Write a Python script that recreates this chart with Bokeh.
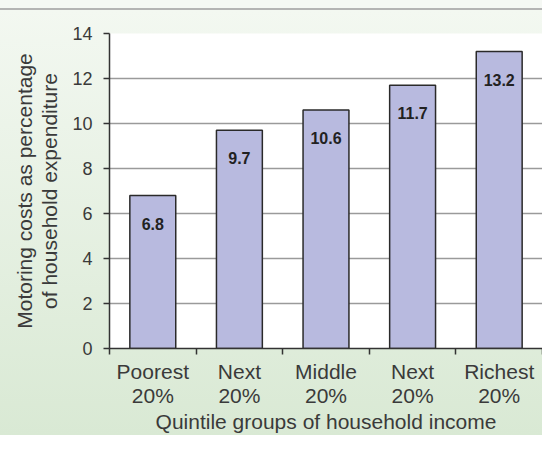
from bokeh.plotting import figure
from bokeh.models import Range1d, FixedTicker, ColumnDataSource
from bokeh.core.properties import value
from bokeh.embed import file_html
from bokeh.resources import INLINE

# ---- data ----
groups = ["Poorest\n20%", "Next\n20%", "Middle\n20%", "Next\n20%", "Richest\n20%"]
values = [6.8, 9.7, 10.6, 11.7, 13.2]
value_labels = ["6.8", "9.7", "10.6", "11.7", "13.2"]
y_ticks = [0, 2, 4, 6, 8, 10, 12, 14]
y_title = "Motoring costs as percentage\nof household expenditure"
x_title = "Quintile groups of household income"

centers = [i + 0.5 for i in range(len(groups))]
bounds = list(range(len(groups) + 1))

TEXT = "#3a3a3a"
LABEL_FONT = "Liberation Sans"
TICK_FONT = "Liberation Sans"

src = ColumnDataSource(dict(x=centers, top=values, label=value_labels))

p = figure(width=542, height=435,
           x_range=Range1d(0, len(groups)), y_range=Range1d(0, 14),
           output_backend="svg", toolbar_location=None,
           min_border_left=109, min_border_right=0,
           min_border_top=33, min_border_bottom=80)

p.border_fill_color = None
p.background_fill_color = "white"
p.outline_line_color = None
p.styles = {
    "background": "linear-gradient(to bottom, #f5f8f4 0px, #f5f8f4 8px, #b4b4b4 8px, #b4b4b4 10px, #f3f8f1 10px, #d9e9d4 100%)"
}

p.vbar(x="x", top="top", width=0.53, source=src,
       fill_color="#b8badf", line_color="#2a2a2a", line_width=1.5)

p.text(x="x", y="top", text="label", source=src, y_offset=28,
       text_align="center", text_baseline="middle",
       text_font=value(TICK_FONT), text_font_style="bold",
       text_font_size="16px", text_color="#222222")

# grid
p.xgrid.visible = False
p.ygrid.ticker = FixedTicker(ticks=y_ticks)
p.ygrid.grid_line_color = "#9a9a9a"
p.ygrid.grid_line_width = 1.5

# y axis
ya = p.yaxis[0]
ya.ticker = FixedTicker(ticks=y_ticks)
ya.axis_line_color = "#333333"
ya.axis_line_width = 1.5
ya.major_tick_line_color = "#333333"
ya.major_tick_line_width = 1.5
ya.major_tick_out = 6
ya.major_tick_in = 0
ya.minor_tick_line_color = None
ya.major_label_text_font = TICK_FONT
ya.major_label_text_font_size = "18px"
ya.major_label_text_color = TEXT
ya.major_label_standoff = 11
ya.axis_label = y_title
ya.axis_label_text_font = LABEL_FONT
ya.axis_label_text_font_size = "21px"
ya.axis_label_text_font_style = "normal"
ya.axis_label_text_color = TEXT
ya.axis_label_text_line_height = 1.1
ya.axis_label_standoff = 8

# x axis
xa = p.xaxis[0]
xa.ticker = FixedTicker(ticks=centers, minor_ticks=bounds)
xa.major_label_overrides = {c: g for c, g in zip(centers, groups)}
xa.axis_line_color = "#333333"
xa.axis_line_width = 1.5
xa.major_tick_line_color = None
xa.minor_tick_line_color = "#333333"
xa.minor_tick_line_width = 1.5
xa.minor_tick_out = 6
xa.minor_tick_in = 0
xa.major_label_text_font = LABEL_FONT
xa.major_label_text_font_size = "21px"
xa.major_label_text_color = TEXT
xa.major_label_text_line_height = 1.05
xa.major_label_standoff = 5
xa.axis_label = x_title
xa.axis_label_text_font = LABEL_FONT
xa.axis_label_text_font_size = "21px"
xa.axis_label_text_font_style = "normal"
xa.axis_label_text_color = TEXT
xa.axis_label_text_line_height = 1.0
xa.axis_label_standoff = 0

open("out.html", "w").write(file_html(p, INLINE))
